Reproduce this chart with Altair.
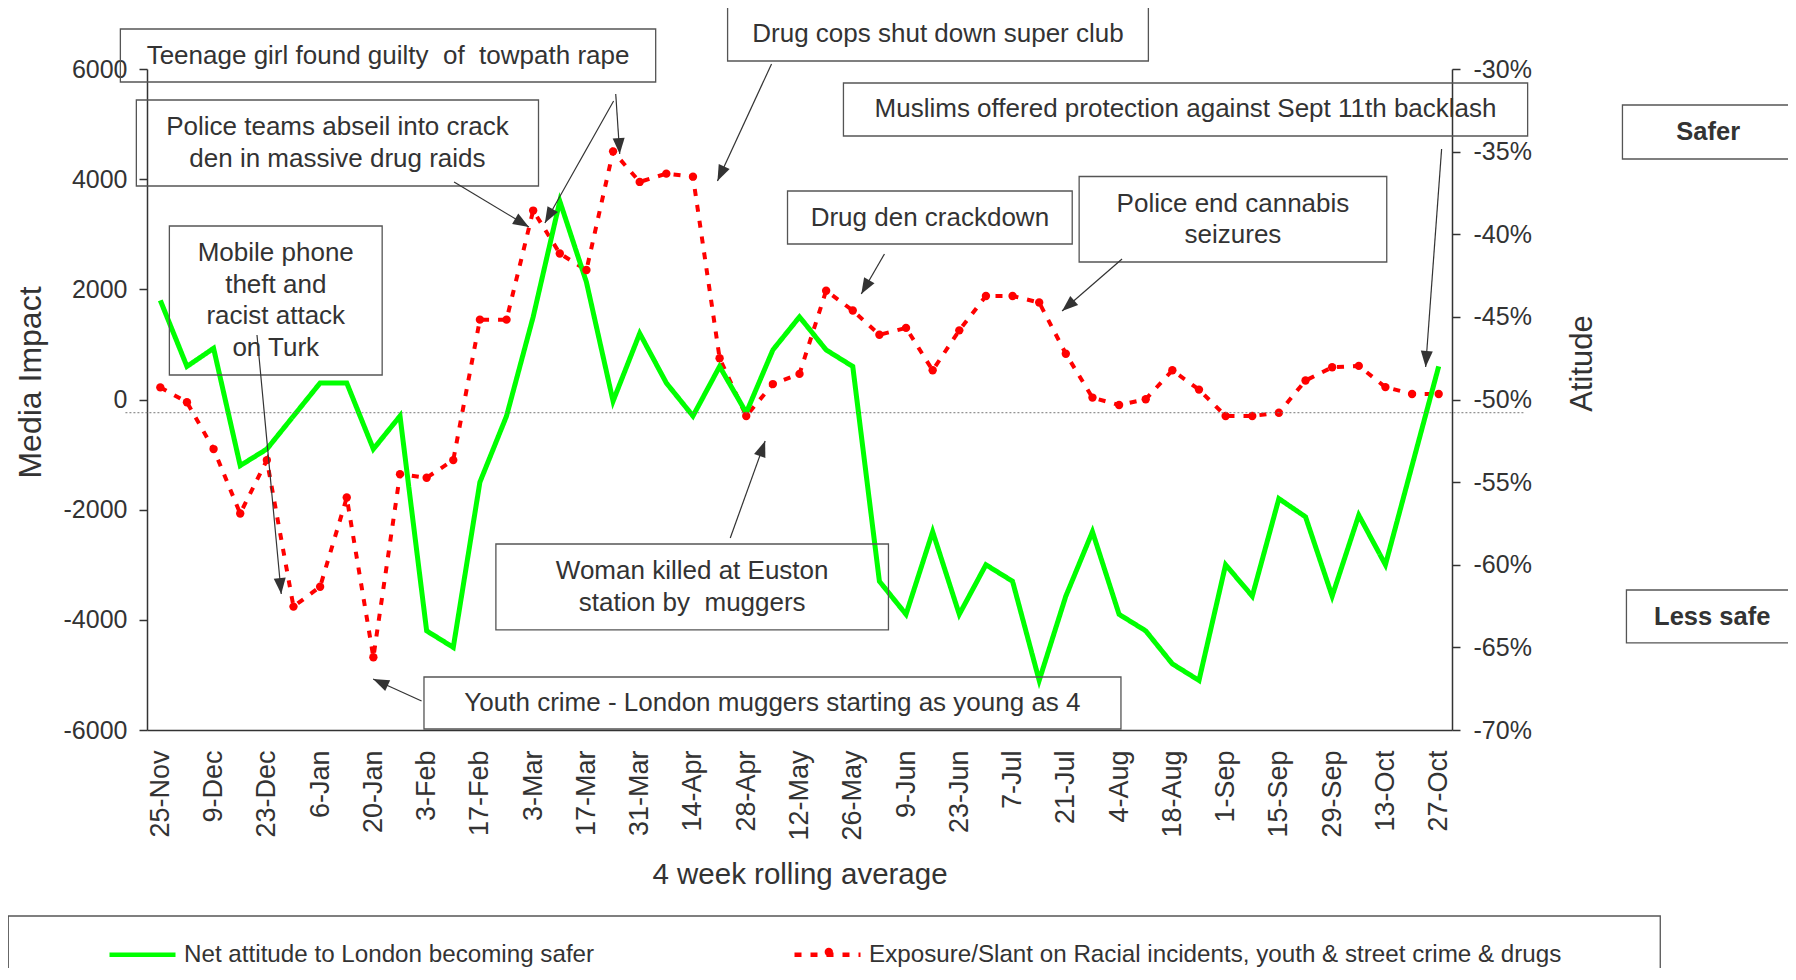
import math
import altair as alt
import pandas as pd

# ---------------- data ----------------
WEEKS = ["25-Nov", "2-Dec", "9-Dec", "16-Dec", "23-Dec", "30-Dec", "6-Jan", "13-Jan",
         "20-Jan", "27-Jan", "3-Feb", "10-Feb", "17-Feb", "24-Feb", "3-Mar", "10-Mar",
         "17-Mar", "24-Mar", "31-Mar", "7-Apr", "14-Apr", "21-Apr", "28-Apr", "5-May",
         "12-May", "19-May", "26-May", "2-Jun", "9-Jun", "16-Jun", "23-Jun", "30-Jun",
         "7-Jul", "14-Jul", "21-Jul", "28-Jul", "4-Aug", "11-Aug", "18-Aug", "25-Aug",
         "1-Sep", "8-Sep", "15-Sep", "22-Sep", "29-Sep", "6-Oct", "13-Oct", "20-Oct",
         "27-Oct"]

# Net attitude (percent, right axis)
ATTITUDE = [-44.0, -48.0, -46.9, -54.0, -53.0, -51.0, -49.0, -49.0, -53.0, -51.0,
            -64.0, -65.0, -55.0, -51.0, -45.0, -38.0, -42.9, -50.1, -46.0, -49.0,
            -51.0, -48.0, -50.8, -47.0, -45.0, -47.0, -48.0, -61.0, -63.0, -58.0,
            -63.0, -60.0, -61.0, -67.0, -61.9, -58.0, -63.0, -64.0, -66.0, -67.0,
            -60.0, -61.9, -56.0, -57.1, -61.9, -57.0, -60.0, -54.0, -48.0]

# Media impact (left axis)
MEDIA = [220, -50, -900, -2070, -1100, -3760, -3400, -1780, -4680, -1355,
         -1420, -1100, 1450, 1450, 3430, 2650, 2350, 4505, 3950, 4100,
         4045, 750, -300, 280, 465, 1975, 1615, 1175, 1300, 530,
         1255, 1880, 1880, 1760, 830, 35, -100, 5, 530, 180,
         -300, -300, -240, 345, 585, 610, 225, 100, 100]

SERIES = ["Net attitude to London becoming safer",
          "Exposure/Slant on Racial incidents, youth & street crime & drugs"]

NB2 = "\u00a0 "  # a visible double space

# annotation boxes (week index / media-impact units)
NOTE_TEXT = ["Teenage girl found guilty" + NB2 + "of" + NB2 + "towpath rape",
             "Police teams abseil into crack\nden in massive drug raids",
             "Mobile phone\ntheft and\nracist attack\non Turk",
             "Drug cops shut down super club",
             "Muslims offered protection against Sept 11th backlash",
             "Drug den crackdown",
             "Police end cannabis\nseizures",
             "Woman killed at Euston\nstation by" + NB2 + "muggers",
             "Youth crime - London muggers starting as young as 4"]
BOX_X1 = [-1.5, -0.9, 0.34, 21.3, 25.65, 23.55, 34.5, 12.6, 9.9]
BOX_X2 = [18.6, 14.2, 8.33, 37.1, 51.34, 34.24, 46.05, 27.34, 36.07]
BOX_Y1 = [6726, 5437, 3150, 7126, 5746, 3785, 4048, -2623, -5038]
BOX_Y2 = [5764, 3876, 445, 6145, 4784, 2823, 2496, -4184, -5982]

# arrows: start -> tip
ARR_X1 = [17.1, 17.02, 11.03, 3.63, 22.95, 48.11, 27.19, 36.11, 21.4, 9.81]
ARR_Y1 = [5546, 5419, 3949, 1171, 6091, 4548, 2642, 2551, -2514, -5473]
ARR_X2 = [17.25, 14.44, 13.84, 4.54, 20.92, 47.51, 26.32, 33.86, 22.71, 7.99]
ARR_Y2 = [4457, 3204, 3132, -3531, 3967, 590, 1915, 1607, -753, -5074]

# side tags
TAG_TEXT = ["Safer", "Less safe"]
TAG_X = [58.12, 58.27]
TAG_Y = [4862, -3943]
TAG_X1 = [54.9, 55.05]
TAG_X2 = [66, 66]
TAG_Y1 = [5346, -3458]
TAG_Y2 = [4366, -4420]

REF_LEVEL = -240  # dotted reference line

# ---------------- layout / style ----------------
W, H = 1305, 661
XDOM = [-0.5, 48.5]
YDOM = [-6000, 6000]
ADOM = [-70, -30]
FONT = "Liberation Sans"
INK = "#333333"
BOXC = "#555555"
GREEN = "#00FF00"
RED = "#FF0000"
LINE_H = 31.5

px_x = W / (XDOM[1] - XDOM[0])
px_y = H / (YDOM[1] - YDOM[0])


def X(field, axis=None):
    return alt.X(f"{field}:Q", scale=alt.Scale(domain=XDOM, nice=False, zero=False), axis=axis)


def Y(field, axis=None):
    return alt.Y(f"{field}:Q", scale=alt.Scale(domain=YDOM, nice=False, zero=False), axis=axis)


color_scale = alt.Scale(domain=SERIES, range=[GREEN, RED])
dash_scale = alt.Scale(domain=SERIES, range=[[1, 0], [7, 9]])
legend = alt.Legend(title=None, orient="none", legendX=-40, legendY=850,
                    direction="horizontal", labelFontSize=24.2, labelFont=FONT,
                    labelColor=INK, symbolType="stroke", symbolSize=4356,
                    symbolStrokeWidth=4.5, labelOffset=6, columnPadding=190,
                    padding=0, labelLimit=1200)

df_green = pd.DataFrame({"i": list(range(len(WEEKS))), "week": WEEKS,
                         "att": ATTITUDE, "series": SERIES[0]})
df_red = pd.DataFrame({"i": list(range(len(WEEKS))), "week": WEEKS,
                       "media": MEDIA, "series": SERIES[1]})

# tick label lookup: a chain of conditions built from WEEKS
label_expr = "".join(f"datum.value == {k} ? '{w}' : " for k, w in enumerate(WEEKS)) + "''"
x_axis = alt.Axis(orient="bottom", values=list(range(0, len(WEEKS), 2)), labelExpr=label_expr,
                  labelAngle=270, labelAlign="right", labelBaseline="middle",
                  labelFontSize=27, labelFont=FONT, labelColor=INK,
                  labelPadding=20, ticks=False, tickSize=0, domainColor=INK, domainWidth=1.5,
                  grid=False, labelOverlap=False, labelFlush=False,
                  title="4 week rolling average", titleFont=FONT, titleFontSize=29.5,
                  titleFontWeight="normal", titleColor=INK, titleX=W / 2, titleY=144,
                  titleAlign="center", titleBaseline="middle")

left_axis = alt.Axis(orient="left", values=list(range(-6000, 6001, 2000)),
                     labelExpr="toString(datum.value)",
                     labelFontSize=25, labelFont=FONT, labelColor=INK, labelPadding=12,
                     tickSize=8, tickColor=INK, tickWidth=1.5, domainColor=INK,
                     domainWidth=1.5, grid=False,
                     title="Media Impact", titleFont=FONT, titleFontSize=32,
                     titleFontWeight="normal", titleColor=INK, titleAngle=270,
                     titleX=-117, titleY=313, titleAlign="center", titleBaseline="middle")

right_axis = alt.Axis(orient="right", values=list(range(-70, -29, 5)),
                      labelExpr="toString(datum.value) + '%'",
                      labelFontSize=25, labelFont=FONT, labelColor=INK, labelPadding=13,
                      tickSize=8, tickColor=INK, tickWidth=1.5, domainColor=INK,
                      domainWidth=1.5, grid=False,
                      title="Atitude", titleFont=FONT, titleFontSize=31,
                      titleFontWeight="normal", titleColor=INK, titleAngle=270,
                      titleX=130, titleY=294, titleAlign="center", titleBaseline="middle")

# ---------------- series ----------------
green = alt.Chart(df_green).mark_line(strokeWidth=5, strokeJoin="miter").encode(
    x=X("i"),
    y=alt.Y("att:Q", scale=alt.Scale(domain=ADOM, nice=False, zero=False), axis=right_axis),
    color=alt.Color("series:N", scale=color_scale, legend=legend),
    strokeDash=alt.StrokeDash("series:N", scale=dash_scale, legend=legend),
)

red_line = alt.Chart(df_red).mark_line(strokeWidth=4, strokeCap="butt").encode(
    x=X("i", x_axis),
    y=Y("media", left_axis),
    color=alt.Color("series:N", scale=color_scale, legend=legend),
    strokeDash=alt.StrokeDash("series:N", scale=dash_scale, legend=legend),
)

red_pts = alt.Chart(df_red).mark_circle(size=70, color=RED, opacity=1).encode(
    x=X("i"), y=Y("media"))

ref_df = pd.DataFrame({"x1": [-1.31], "x2": [51.19], "y": [REF_LEVEL]})
ref_rule = alt.Chart(ref_df).mark_rule(color="#777777", strokeWidth=1,
                                       strokeDash=[2, 2]).encode(
    x=X("x1"), x2="x2", y=Y("y"))

# ---------------- annotations ----------------
box_df = pd.DataFrame({"x1": BOX_X1, "x2": BOX_X2, "y1": BOX_Y1, "y2": BOX_Y2,
                       "text": NOTE_TEXT})
box_df["cx"] = (box_df["x1"] + box_df["x2"]) / 2
# first text line sits above the box centre by half the extra lines
box_df["ty"] = [(a + b) / 2 + (t.count("\n") * LINE_H / 2) / px_y
                for a, b, t in zip(BOX_Y1, BOX_Y2, NOTE_TEXT)]

boxes = alt.Chart(box_df).mark_rect(fillOpacity=0, stroke=BOXC, strokeWidth=1.3).encode(
    x=X("x1"), x2="x2", y=Y("y1"), y2="y2")

note_text = alt.Chart(box_df).mark_text(font=FONT, fontSize=26, color=INK, align="center",
                                        baseline="middle", lineBreak="\n",
                                        lineHeight=LINE_H).encode(
    x=X("cx"), y=Y("ty"), text="text:N")

arr_df = pd.DataFrame({"x1": ARR_X1, "y1": ARR_Y1, "x2": ARR_X2, "y2": ARR_Y2})
arr_df["ang"] = [
    math.degrees(math.atan2((bx - ax) * px_x, (by - ay) * px_y)) % 360
    for ax, ay, bx, by in zip(ARR_X1, ARR_Y1, ARR_X2, ARR_Y2)
]

arrow_lines = alt.Chart(arr_df).mark_rule(color=INK, strokeWidth=1.2).encode(
    x=X("x1"), y=Y("y1"), x2="x2", y2="y2")

HEAD = "M0,0L-0.75,2L0.75,2Z"
arrow_heads = alt.Chart(arr_df).mark_point(shape=HEAD, size=256, filled=True, color=INK,
                                           opacity=1, strokeWidth=0).encode(
    x=X("x2"), y=Y("y2"), angle=alt.Angle("ang:Q", scale=None))

tag_df = pd.DataFrame({"text": TAG_TEXT, "x": TAG_X, "y": TAG_Y, "x1": TAG_X1,
                       "x2": TAG_X2, "y1": TAG_Y1, "y2": TAG_Y2})
tag_boxes = alt.Chart(tag_df).mark_rect(fillOpacity=0, stroke=BOXC, strokeWidth=1.3).encode(
    x=X("x1"), x2="x2", y=Y("y1"), y2="y2")
tag_text = alt.Chart(tag_df).mark_text(font=FONT, fontSize=25.5, fontWeight="bold",
                                       color=INK, align="center", baseline="middle").encode(
    x=X("x"), y=Y("y"), text="text:N")

# legend frame and the marker dot on the red legend swatch
frame_df = pd.DataFrame({"x1": [-5.71], "x2": [56.32], "y1": [-9377], "y2": [-12500]})
legend_frame = alt.Chart(frame_df).mark_rect(fillOpacity=0, stroke=BOXC,
                                             strokeWidth=1.3).encode(
    x=X("x1"), x2="x2", y=Y("y1"), y2="y2")
dot_df = pd.DataFrame({"x": [25.1], "y": [-10030]})
legend_dot = alt.Chart(dot_df).mark_circle(size=70, color=RED, opacity=1).encode(
    x=X("x"), y=Y("y"))

chart = alt.layer(
    red_line, green, red_pts, ref_rule, boxes, note_text, arrow_lines, arrow_heads,
    tag_boxes, tag_text, legend_frame, legend_dot,
).resolve_scale(x="independent", y="independent").properties(
    width=W, height=H,
    autosize=alt.AutoSizeParams(type="none"),
    padding={"left": 139, "top": 61, "right": 336, "bottom": 238},
).configure(font=FONT).configure_view(stroke="transparent")

chart.save("out.html", embed_options={"renderer": "svg", "actions": False})
